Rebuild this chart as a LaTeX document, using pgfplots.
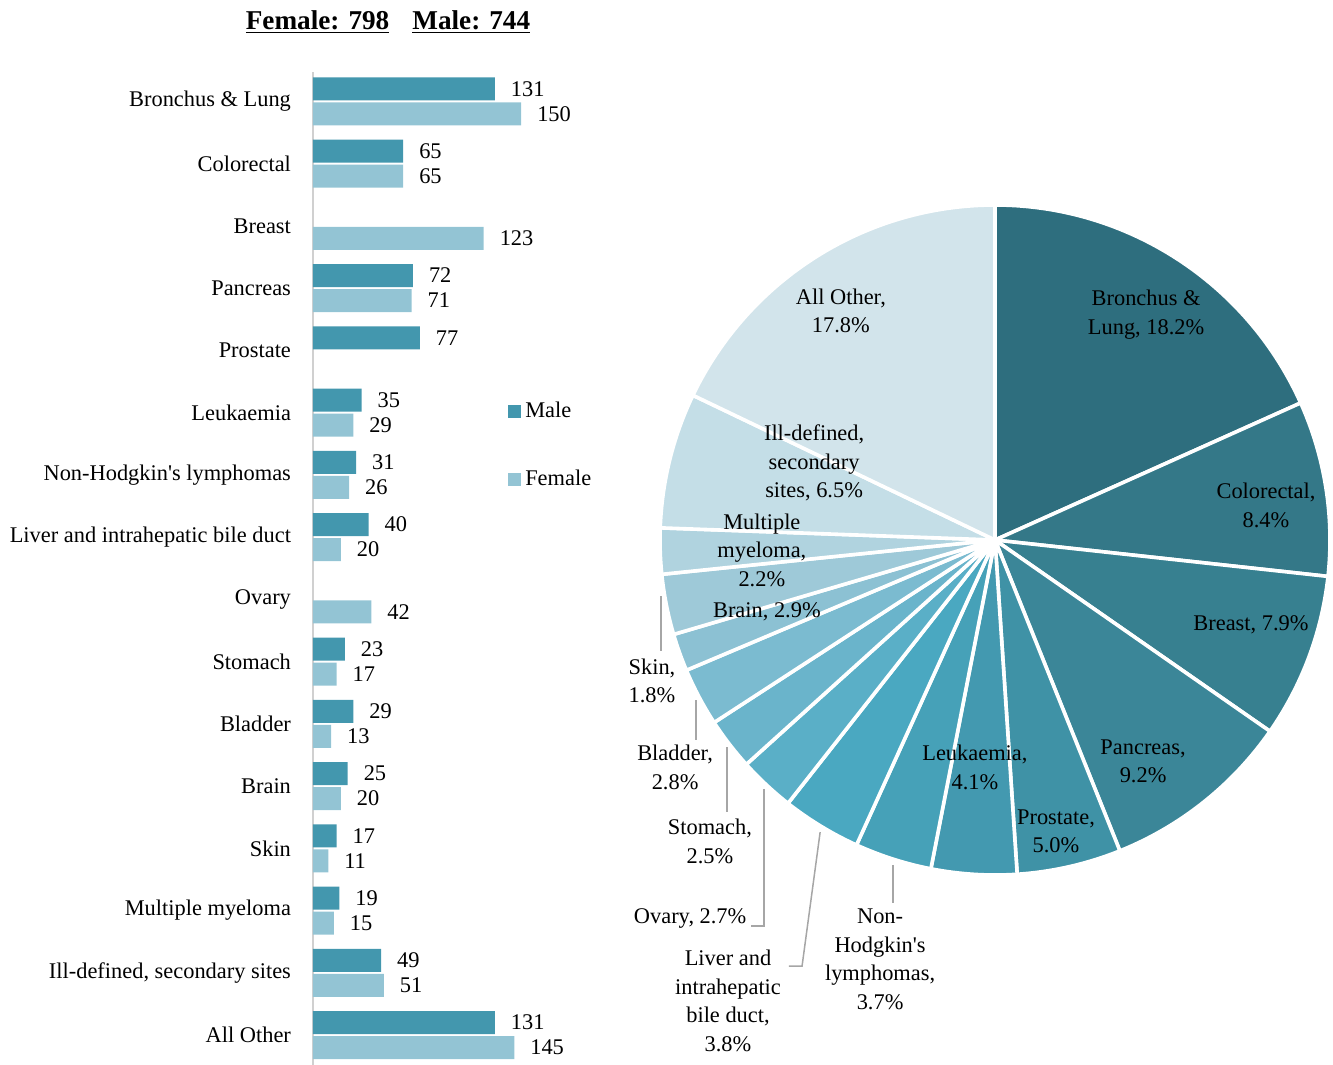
\documentclass[border=0pt]{standalone}
\usepackage{pgfplots}
\pgfplotsset{compat=1.18}
\usepackage{pgfplotstable}
\usepackage{fontspec}
\setmainfont{Liberation Serif}

\definecolor{male}{HTML}{4397AE}
\definecolor{female}{HTML}{93C4D4}
\definecolor{axisgray}{HTML}{D0D0D0}
\definecolor{leader}{HTML}{A6A6A6}
% pie slice colours, dark to light
\definecolor{pc0}{HTML}{2E6E7E}
\definecolor{pc1}{HTML}{347888}
\definecolor{pc2}{HTML}{378090}
\definecolor{pc3}{HTML}{3B8698}
\definecolor{pc4}{HTML}{3F92A6}
\definecolor{pc5}{HTML}{4399B0}
\definecolor{pc6}{HTML}{46A1B8}
\definecolor{pc7}{HTML}{4AA8C1}
\definecolor{pc8}{HTML}{5AAFC7}
\definecolor{pc9}{HTML}{6AB4CB}
\definecolor{pc10}{HTML}{7BBBD0}
\definecolor{pc11}{HTML}{8CC1D3}
\definecolor{pc12}{HTML}{9EC9D8}
\definecolor{pc13}{HTML}{B0D3DF}
\definecolor{pc14}{HTML}{C4DEE7}
\definecolor{pc15}{HTML}{D2E4EB}

\newcommand\lbl{\fontsize{11.2}{14.25}\selectfont}
\tikzset{pielbl/.style={font=\lbl, align=center, inner sep=0pt},
  lead/.style={draw=leader, line width=0.75pt}}

% pie shares (percent), clockwise from 12 o'clock
\pgfplotstableread{
label value
Bronchus 18.2
Colorectal 8.4
Breast 7.9
Pancreas 9.2
Prostate 5.0
Leukaemia 4.1
NHL 3.7
Liver 3.8
Ovary 2.7
Stomach 2.5
Bladder 2.8
Skin 1.8
Brain 2.9
Myeloma 2.2
Illdefined 6.5
Other 17.8
}\piedata

\begin{document}
\begin{tikzpicture}
% start / end angles of the slices
\def\pietotal{0}
\pgfplotsforeachungrouped \i in {0,...,15}{%
  \pgfplotstablegetelem{\i}{value}\of\piedata
  \pgfmathsetmacro\pietotal{\pietotal+\pgfplotsretval}%
}
\pgfmathsetmacro\piescale{360/\pietotal}
\def\piecum{0}
\pgfplotsforeachungrouped \i in {0,...,15}{%
  \pgfplotstablegetelem{\i}{value}\of\piedata
  \pgfmathsetmacro\pa{90-\piescale*\piecum}%
  \pgfmathsetmacro\piecum{\piecum+\pgfplotsretval}%
  \pgfmathsetmacro\pb{90-\piescale*\piecum}%
  \expandafter\xdef\csname pieA\i\endcsname{\pa}%
  \expandafter\xdef\csname pieB\i\endcsname{\pb}%
}

\path[use as bounding box] (0pt,0pt) rectangle (666.5pt,-532.5pt);

\node[font=\fontsize{13.6}{16}\selectfont\bfseries] at (194pt,-11pt)
  {\underline{Female: 798}\hspace{11.5pt}\underline{Male: 744}};

%% bar chart
\begin{axis}[
  at={(156.5pt,-36pt)}, anchor=north west,
  scale only axis, width=138.8pt, height=496.5pt,
  xbar, bar width=11.5pt,
  xmin=0, xmax=200, ymin=-0.47, ymax=15.48, y dir=reverse,
  axis lines*=left, xtick=\empty,
  x axis line style={draw=none},
  y axis line style={draw=axisgray, line width=1pt, -},
  ytick={0,...,15},
  yticklabels={Bronchus \& Lung, Colorectal, Breast, Pancreas, Prostate,
    Leukaemia, Non-Hodgkin\textquotesingle s lymphomas, Liver and intrahepatic bile duct,
    Ovary, Stomach, Bladder, Brain, Skin, Multiple myeloma,
    {Ill-defined, secondary sites}, All Other},
  major tick length=0pt,
  yticklabel style={font=\lbl, xshift=-7.5pt},
  nodes near coords, nodes near coords align=horizontal,
  every node near coord/.append style={font=\lbl, xshift=4.5pt},
  /pgf/number format/assume math mode=true,
  legend style={at={(0.702,0.624)}, anchor=west, draw=none, fill=none,
    inner sep=0pt, row sep=20.5pt, font=\lbl},
  legend cell align=left,
  clip=false,
]
\addplot[fill=male, draw=none, bar shift=6.25pt,
  legend image code/.code={\fill[male] (0pt,-3.25pt) rectangle (6.5pt,3.25pt);}]
  coordinates {(131,0) (65,1) (72,3) (77,4) (35,5) (31,6) (40,7)
    (23,9) (29,10) (25,11) (17,12) (19,13) (49,14) (131,15)};
\addplot[fill=female, draw=none, bar shift=-6.25pt,
  legend image code/.code={\fill[female] (0pt,-3.25pt) rectangle (6.5pt,3.25pt);}]
  coordinates {(150,0) (65,1) (123,2) (71,3) (29,5) (26,6) (20,7) (42,8)
    (17,9) (13,10) (20,11) (11,12) (15,13) (51,14) (145,15)};
\legend{Male,Female}
\end{axis}

%% pie chart
\begin{axis}[
  at={(497.5pt,-270pt)}, anchor=center,
  scale only axis, width=335pt, height=335pt,
  xmin=-1, xmax=1, ymin=-1, ymax=1,
  hide axis, clip=false,
]
\addplot[draw=none] coordinates {(0,0)};
\pgfplotsinvokeforeach{0,...,15}{%
  \fill[pc#1, draw=white, line width=1.8pt, line join=round]
    (axis cs:0,0) -- (axis cs:{cos(\csname pieA#1\endcsname)},{sin(\csname pieA#1\endcsname)})
    arc[start angle=\csname pieA#1\endcsname, end angle=\csname pieB#1\endcsname, radius=167.5pt]
    -- cycle;
}
\node[pielbl] at (axis cs:0.451,0.672) {Bronchus \&\\Lung, 18.2\%};
\node[pielbl] at (axis cs:0.809,0.104) {Colorectal,\\8.4\%};
\node[pielbl] at (axis cs:0.764,-0.254) {Breast, 7.9\%};
\node[pielbl] at (axis cs:0.442,-0.660) {Pancreas,\\9.2\%};
\node[pielbl] at (axis cs:0.182,-0.869) {Prostate,\\5.0\%};
\node[pielbl] at (axis cs:-0.060,-0.678) {Leukaemia,\\4.1\%};
\node[pielbl] at (axis cs:-0.343,-1.251) {Non-\\Hodgkin\textquotesingle s\\lymphomas,\\3.7\%};
\node[pielbl] at (axis cs:-0.797,-1.376) {Liver and\\intrahepatic\\bile duct,\\3.8\%};
\node[pielbl] at (axis cs:-0.910,-1.131) {Ovary, 2.7\%};
\node[pielbl] at (axis cs:-0.851,-0.899) {Stomach,\\2.5\%};
\node[pielbl] at (axis cs:-0.955,-0.678) {Bladder,\\2.8\%};
\node[pielbl] at (axis cs:-1.024,-0.421) {Skin,\\1.8\%};
\node[pielbl] at (axis cs:-0.681,-0.215) {Brain, 2.9\%};
\node[pielbl] at (axis cs:-0.696,-0.030) {Multiple\\myeloma,\\2.2\%};
\node[pielbl] at (axis cs:-0.540,0.230) {Ill-defined,\\secondary\\sites, 6.5\%};
\node[pielbl] at (axis cs:-0.460,0.684) {All Other,\\17.8\%};
% leader lines
\draw[lead] (axis cs:-0.997,-0.167) -- (axis cs:-0.997,-0.331);
\draw[lead] (axis cs:-0.893,-0.478) -- (axis cs:-0.893,-0.597);
\draw[lead] (axis cs:-0.800,-0.618) -- (axis cs:-0.800,-0.812);
\draw[lead] (axis cs:-0.690,-0.743) -- (axis cs:-0.690,-1.152) -- (axis cs:-0.728,-1.152);
\draw[lead] (axis cs:-0.522,-0.872) -- (axis cs:-0.576,-1.272) -- (axis cs:-0.615,-1.272);
\draw[lead] (axis cs:-0.304,-0.970) -- (axis cs:-0.304,-1.084);
\end{axis}
\end{tikzpicture}
\end{document}
